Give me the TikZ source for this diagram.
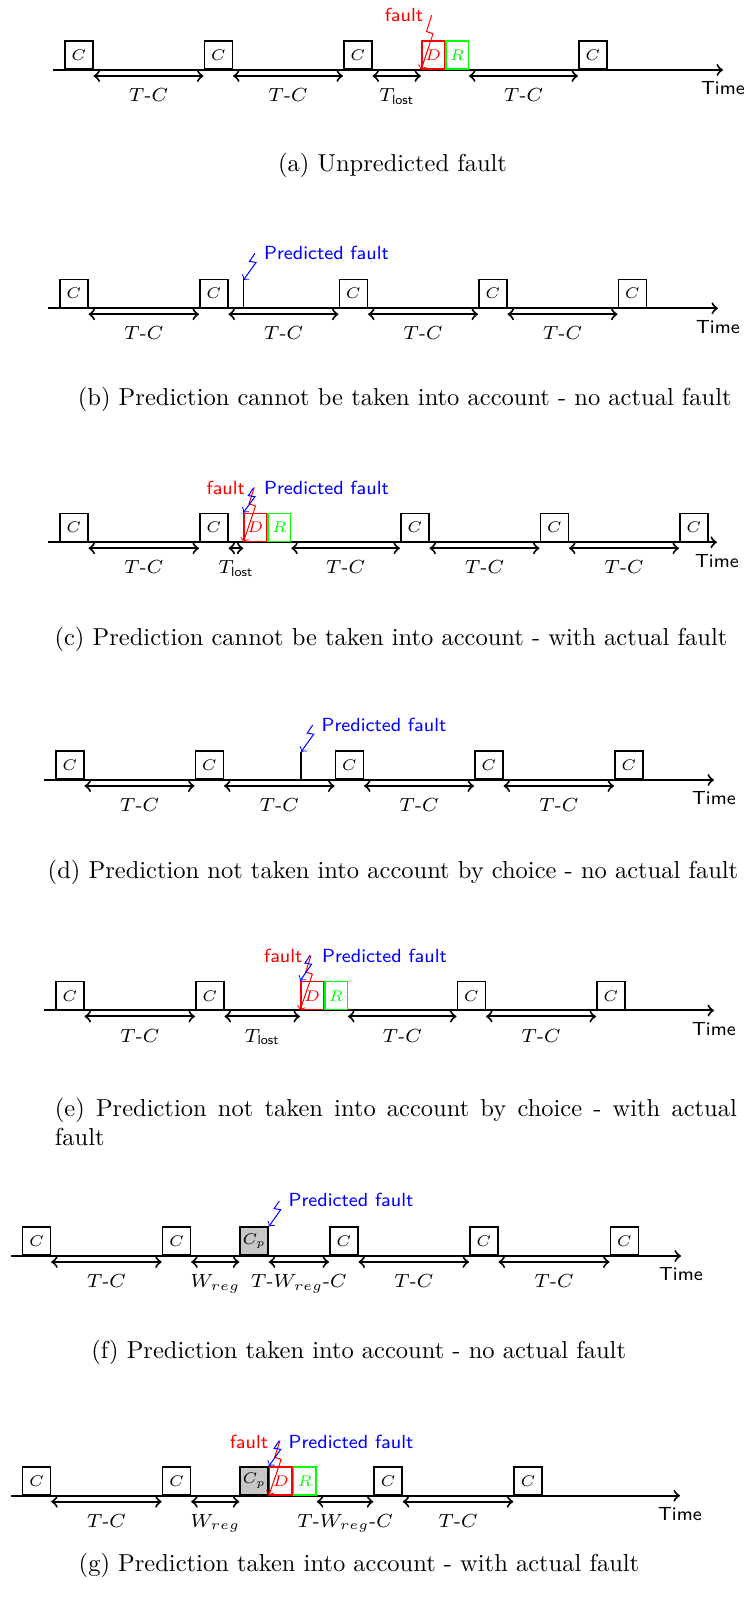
\RequirePackage{fix-cm}
\documentclass[tikz,border=0pt]{standalone}
\usepackage{fontspec}
\usepackage{xcolor}
\usepackage{tikz}
\usetikzlibrary{calc,positioning}
\def\tlost{$T_{\mathsf{lost}}$}
\def\tc{$T$-$C$}
\def\twc{$T$-$W_{reg}$-$C$}
\newcommand{\gaparrow}[3]{\draw[gaparrow] ([yshift=-2.4pt]#1.south east) -- ([yshift=-2.4pt]#2.south west) node[gaplbl] {#3};}
\newcommand{\faultbolt}[3]{\draw[#1] (#2) -- ($(#2)!.3!(#3)+(-2,0)$) -- ($(#2)!.34!(#3)+(5,0)$) -- (#3);}

\begin{document}
\begin{tikzpicture}[x=0.4pt,y=0.4pt]
    \tikzstyle{ckpt}=[draw,semithick,fill=white,anchor=south west,inner sep=0pt,
      minimum width=11.2pt,minimum height=11.2pt,font=\fontsize{6.2}{7}\selectfont]
    \tikzstyle{dbox}=[ckpt,draw=red,text=red,minimum width=9pt]
    \tikzstyle{rbox}=[ckpt,draw=green,text=green,minimum width=9pt]
    \tikzstyle{cpbox}=[ckpt,fill=black!22]
    \tikzstyle{axis}=[thick,->]
    \tikzstyle{gaparrow}=[thick,<->]
    \tikzstyle{gaplbl}=[midway,below=1.3pt,font=\fontsize{7.6}{9}\selectfont]
    \tikzstyle{timelbl}=[below=1pt,font=\sffamily\fontsize{7.6}{9}\selectfont]
    \tikzstyle{faultlbl}=[text=red,font=\sffamily\fontsize{7.6}{9}\selectfont]
    \tikzstyle{predlbl}=[text=blue,font=\sffamily\fontsize{7.6}{9}\selectfont]
    \tikzstyle{caplbl}=[font=\fontsize{9.8}{11.5}\selectfont]
    \useasboundingbox (0,0) rectangle (746,1608);

    % (a) unpredicted fault
    \begin{scope}[shift={(0,1538)}]
      \draw[axis] (53,0) -- (723,0) node[timelbl] {Time};
      \node[ckpt] (a1) at (64,0) {$C$};
      \node[ckpt] (a2) at (203.5,0) {$C$};
      \node[ckpt] (a3) at (343,0) {$C$};
      \node[dbox] (aD) at (421,0) {$D$};
      \node[rbox] (aR) at (aD.south east) {$R$};
      \node[ckpt] (a4) at (578,0) {$C$};
      \gaparrow{a1}{a2}{\tc}
      \gaparrow{a2}{a3}{\tc}
      \gaparrow{a3}{aD}{\tlost}
      \gaparrow{aR}{a4}{\tc}
      \node[faultlbl] (af) at (404,55) {fault};
      \coordinate (afs) at (431.7,55);
      \faultbolt{red,->}{afs}{aD.south west}
    \end{scope}
    \node[caplbl] (capa) at (392.6,1442.8) {(a) Unpredicted fault};

    % (b) prediction ignored, no fault
    \begin{scope}[shift={(0,1299.7)}]
      \draw[axis] (48,0) -- (718,0) node[timelbl] {Time};
      \node[ckpt] (b1) at (59,0) {$C$};
      \node[ckpt] (b2) at (199,0) {$C$};
      \node[ckpt] (b3) at (338.5,0) {$C$};
      \node[ckpt] (b4) at (478,0) {$C$};
      \node[ckpt] (b5) at (617.5,0) {$C$};
      \coordinate (bp) at (243.3,0);
      \coordinate (bpt) at (243.3,28);
      \draw[semithick] (bp) -- (bpt);
      \gaparrow{b1}{b2}{\tc}
      \gaparrow{b2}{b3}{\tc}
      \gaparrow{b3}{b4}{\tc}
      \gaparrow{b4}{b5}{\tc}
      \node[predlbl] (bq) at (326.5,55) {Predicted fault};
      \coordinate (bqs) at (255,55);
      \faultbolt{blue,->}{bqs}{bpt}
    \end{scope}
    \node[caplbl] (capb) at (404.8,1209) {(b) Prediction cannot be taken into account - no actual fault};

    % (c) prediction ignored, with fault
    \begin{scope}[shift={(0,1065.7)}]
      \draw[axis] (48,0) -- (717,0) node[timelbl] {Time};
      \node[ckpt] (c1) at (59,0) {$C$};
      \node[ckpt] (c2) at (199,0) {$C$};
      \node[dbox] (cD) at (243.3,0) {$D$};
      \node[rbox] (cR) at (cD.south east) {$R$};
      \node[ckpt] (c3) at (400,0) {$C$};
      \node[ckpt] (c4) at (539.5,0) {$C$};
      \node[ckpt] (c5) at (679,0) {$C$};
      \gaparrow{c1}{c2}{\tc}
      \gaparrow{c2}{cD}{\tlost}
      \gaparrow{cR}{c3}{\tc}
      \gaparrow{c3}{c4}{\tc}
      \gaparrow{c4}{c5}{\tc}
      \node[faultlbl] (cf) at (225.8,54) {fault};
      \node[predlbl] (cq) at (326.5,54) {Predicted fault};
      \coordinate (cfs) at (254.3,55);
      \coordinate (cqs) at (253.3,54);
      \faultbolt{red,->}{cfs}{cD.south west}
      \faultbolt{blue,->}{cqs}{cD.north west}
    \end{scope}
    \node[caplbl] (capc) at (391,968.7) {(c) Prediction cannot be taken into account - with actual fault};

    % (d) prediction ignored by choice, no fault
    \begin{scope}[shift={(0,828)}]
      \draw[axis] (43.7,0) -- (714,0) node[timelbl] {Time};
      \node[ckpt] (d1) at (55,0) {$C$};
      \node[ckpt] (d2) at (194.5,0) {$C$};
      \node[ckpt] (d3) at (334.5,0) {$C$};
      \node[ckpt] (d4) at (474,0) {$C$};
      \node[ckpt] (d5) at (614,0) {$C$};
      \coordinate (dp) at (301,0);
      \coordinate (dpt) at (301,28);
      \draw[semithick] (dp) -- (dpt);
      \gaparrow{d1}{d2}{\tc}
      \gaparrow{d2}{d3}{\tc}
      \gaparrow{d3}{d4}{\tc}
      \gaparrow{d4}{d5}{\tc}
      \node[predlbl] (dq) at (384,55) {Predicted fault};
      \coordinate (dqs) at (312.7,55);
      \faultbolt{blue,->}{dqs}{dpt}
    \end{scope}
    \node[caplbl] (capd) at (393,736) {(d) Prediction not taken into account by choice - no actual fault};

    % (e) prediction ignored by choice, with fault
    \begin{scope}[shift={(0,597.5)}]
      \draw[axis] (43.7,0) -- (714,0) node[timelbl] {Time};
      \node[ckpt] (e1) at (55,0) {$C$};
      \node[ckpt] (e2) at (195,0) {$C$};
      \node[dbox] (eD) at (300,0) {$D$};
      \node[rbox] (eR) at (eD.south east) {$R$};
      \node[ckpt] (e3) at (456.5,0) {$C$};
      \node[ckpt] (e4) at (596,0) {$C$};
      \gaparrow{e1}{e2}{\tc}
      \gaparrow{e2}{eD}{\tlost}
      \gaparrow{eR}{e3}{\tc}
      \gaparrow{e3}{e4}{\tc}
      \node[faultlbl] (ef) at (283.3,55) {fault};
      \node[predlbl] (eq) at (384.5,55) {Predicted fault};
      \coordinate (efs) at (311,55);
      \coordinate (eqs) at (310,55);
      \faultbolt{red,->}{efs}{eD.south west}
      \faultbolt{blue,->}{eqs}{eD.north west}
    \end{scope}
    \node[caplbl,anchor=north west,inner sep=0pt,text width=272.8pt,align=justify] (cape) at (54.4,510)
      {(e) Prediction not taken into account by choice - with actual fault};

    % (f) prediction taken into account, no fault
    \begin{scope}[shift={(0,352)}]
      \draw[axis] (11,0) -- (681,0) node[timelbl] {Time};
      \node[ckpt] (f1) at (21.7,0) {$C$};
      \node[ckpt] (f2) at (161.7,0) {$C$};
      \node[cpbox] (fp) at (239.3,0) {$C_p$};
      \node[ckpt] (f3) at (329,0) {$C$};
      \node[ckpt] (f4) at (469,0) {$C$};
      \node[ckpt] (f5) at (609.5,0) {$C$};
      \gaparrow{f1}{f2}{\tc}
      \gaparrow{f2}{fp}{$W_{reg}$}
      \gaparrow{fp}{f3}{\twc}
      \gaparrow{f3}{f4}{\tc}
      \gaparrow{f4}{f5}{\tc}
      \node[predlbl] (fq) at (351,56) {Predicted fault};
      \coordinate (fqs) at (279.3,55);
      \faultbolt{blue,->}{fqs}{fp.north east}
    \end{scope}
    \node[caplbl] (capf) at (358.7,255.6) {(f) Prediction taken into account - no actual fault};

    % (g) prediction taken into account, with fault
    \begin{scope}[shift={(0,112.3)}]
      \draw[axis] (11,0) -- (680,0) node[timelbl] {Time};
      \node[ckpt] (g1) at (21.7,0) {$C$};
      \node[ckpt] (g2) at (161.7,0) {$C$};
      \node[cpbox] (gp) at (239.3,0) {$C_p$};
      \node[dbox] (gD) at (gp.south east) {$D$};
      \node[rbox] (gR) at (gD.south east) {$R$};
      \node[ckpt] (g3) at (373.3,0) {$C$};
      \node[ckpt] (g4) at (513.3,0) {$C$};
      \gaparrow{g1}{g2}{\tc}
      \gaparrow{g2}{gp}{$W_{reg}$}
      \gaparrow{gR}{g3}{\twc}
      \gaparrow{g3}{g4}{\tc}
      \node[faultlbl] (gf) at (249,54) {fault};
      \node[predlbl] (gq) at (351,54) {Predicted fault};
      \coordinate (gfs) at (280,55);
      \coordinate (gqs) at (279.3,55);
      \faultbolt{red,->}{gfs}{gD.south west}
      \faultbolt{blue,->}{gqs}{gD.north west}
    \end{scope}
    \node[caplbl] (capg) at (359,43) {(g) Prediction taken into account - with actual fault};
\end{tikzpicture}
\end{document}
